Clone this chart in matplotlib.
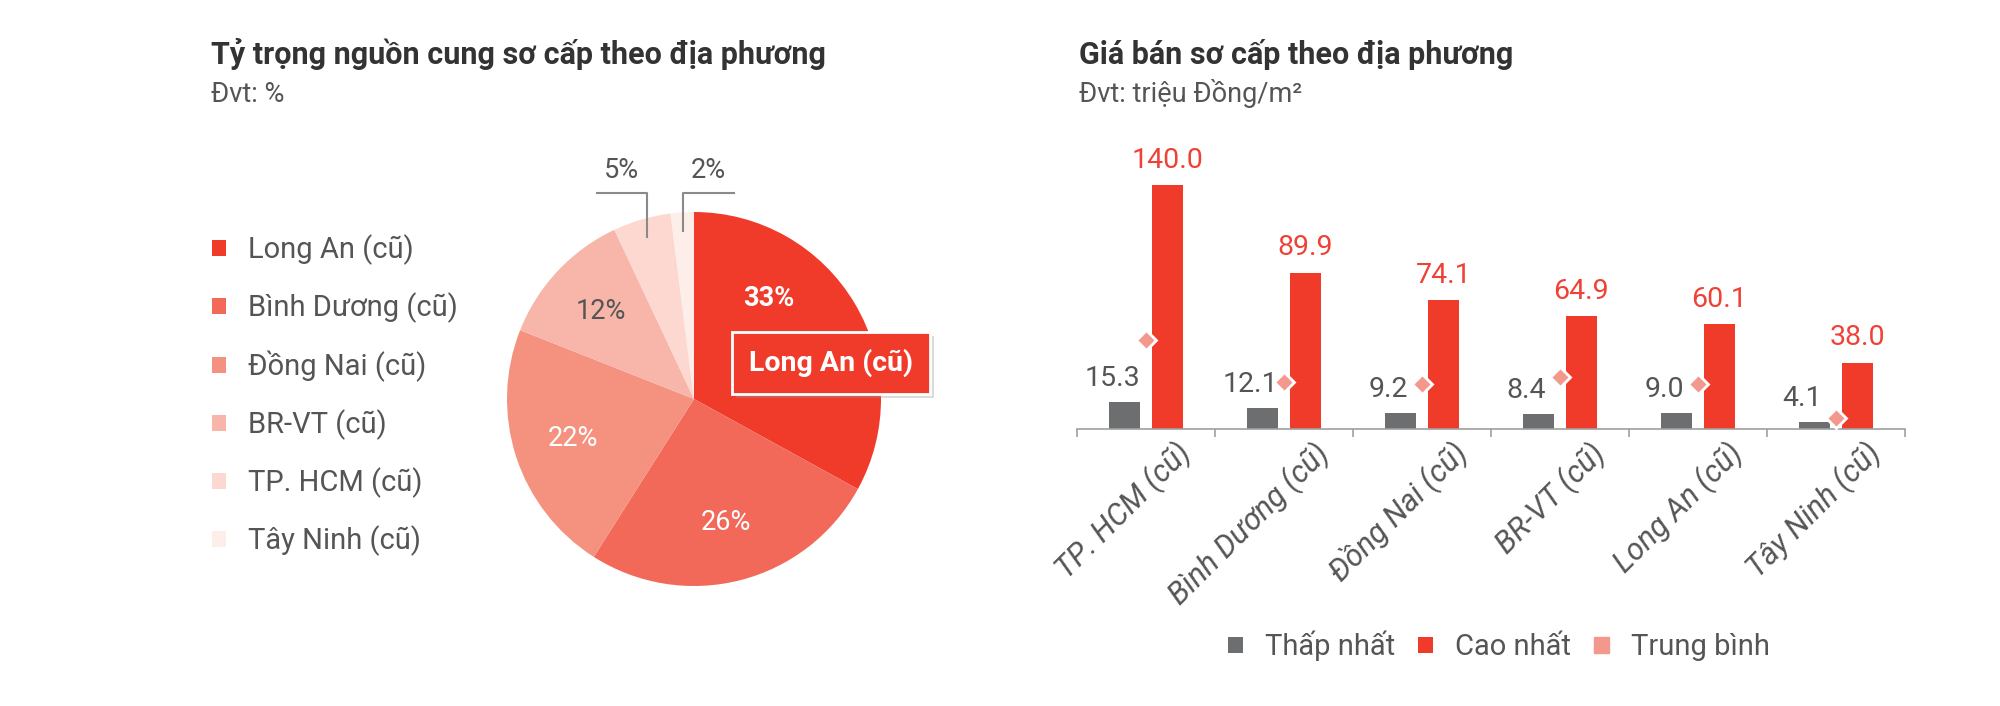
import matplotlib
matplotlib.use('Agg')
import matplotlib.pyplot as plt
import matplotlib.patches as mpatches
import matplotlib.patheffects as pe
from matplotlib.transforms import ScaledTranslation
import numpy as np

plt.rcParams['font.family'] = ['Roboto', 'DejaVu Sans']

# ---- data ----
pie_labels = ['Long An (cũ)', 'Bình Dương (cũ)', 'Đồng Nai (cũ)', 'BR-VT (cũ)', 'TP. HCM (cũ)', 'Tây Ninh (cũ)']
pie_share = [33, 26, 22, 12, 5, 2]
pie_colors = ['#F03B2B', '#F2695A', '#F5917F', '#F8B5A9', '#FCD8D0', '#FEEEEA']

regions = ['TP. HCM (cũ)', 'Bình Dương (cũ)', 'Đồng Nai (cũ)', 'BR-VT (cũ)', 'Long An (cũ)', 'Tây Ninh (cũ)']
price_min = [15.3, 12.1, 9.2, 8.4, 9.0, 4.1]
price_max = [140.0, 89.9, 74.1, 64.9, 60.1, 38.0]
price_avg = [51.0, 27.0, 26.0, 30.0, 25.6, 6.3]
series_names = ['Thấp nhất', 'Cao nhất', 'Trung bình']

RED = '#F03B2B'
GREY = '#6D6E70'
SALMON = '#F3988C'
TXT = '#555555'

W, H = 2000, 706
fig = plt.figure(figsize=(W / 100, H / 100), dpi=100)


def px(x0, y0, w, h):  # pixel box (top-left origin) -> figure fraction
    return [x0 / W, 1 - (y0 + h) / H, w / W, h / H]


# ---- titles ----
fig.text(211 / W, 1 - 54 / H, 'Tỷ trọng nguồn cung sơ cấp theo địa phương',
         fontsize=22, weight='bold', color='#333333', va='center')
fig.text(211 / W, 1 - 94 / H, 'Đvt: %', fontsize=19.5, color=TXT, va='center')
fig.text(1079 / W, 1 - 54 / H, 'Giá bán sơ cấp theo địa phương',
         fontsize=22, weight='bold', color='#333333', va='center')
fig.text(1079 / W, 1 - 94 / H, 'Đvt: triệu Đồng/m²', fontsize=19.5, color=TXT, va='center')

# ---- pie ----
ax1 = fig.add_axes(px(507, 212, 374, 374))
wedges, texts, autotexts = ax1.pie(pie_share, colors=pie_colors, startangle=90, counterclock=False,
                                   autopct=lambda p: f'{p:.0f}%', pctdistance=0.68,
                                   textprops=dict(fontsize=19.5, color='white'))
ax1.set_xlim(-1, 1)
ax1.set_ylim(-1, 1)

autotexts[0].set_position((0.40, 0.54))
autotexts[0].set_fontweight('bold')
autotexts[3].set_color(TXT)

box = ax1.text(0.733, 0.193, pie_labels[0], ha='center', va='center', fontsize=20.5,
               weight='bold', color='white', clip_on=False,
               bbox=dict(boxstyle='square,pad=0.6', fc=RED, ec='white', lw=2))
box.get_bbox_patch().set_path_effects([
    pe.SimplePatchShadow(offset=(3, -3), shadow_rgbFace='#999999', alpha=0.35), pe.Normal()])

# small slices: labels above with leader lines
for i, side in [(4, -1), (5, 1)]:
    autotexts[i].set_visible(False)
    w = wedges[i]
    mid = np.deg2rad((w.theta1 + w.theta2) / 2)
    x0, y0 = 0.9 * np.cos(mid), 0.9 * np.sin(mid)
    ax1.plot([x0, x0, x0 + side * 0.27], [y0, 1.10, 1.10], color='#8A8A8A', lw=1.5, clip_on=False)
    ax1.text(x0 + side * 0.135, 1.22, autotexts[i].get_text(), ha='center', va='center',
             fontsize=19.5, color=TXT, clip_on=False)

ax1.legend(wedges, pie_labels, loc='upper left', bbox_to_anchor=(197 / W, 1 - 220 / H),
           bbox_transform=fig.transFigure, frameon=False, fontsize=21, borderpad=0,
           handlelength=0.5, handleheight=0.5, handletextpad=0.75, labelspacing=0.94,
           labelcolor=TXT)

# ---- bars ----
ax2 = fig.add_axes(px(1077, 168, 828, 261))
x = np.arange(len(regions))
bw = 0.225
b1 = ax2.bar(x - 0.155, price_min, bw, color=GREY)
b2 = ax2.bar(x + 0.155, price_max, bw, color=RED)
ax2.plot(x, price_avg, ls='none', marker='D', ms=10, mfc=SALMON, mec='white', mew=2, zorder=3)
ax2.set_xlim(-0.5, len(regions) - 0.5)
ax2.set_ylim(0, 150)

for xi, v in zip(x, price_min):
    ax2.annotate(f'{v:.1f}', (xi - 0.155, v), xytext=(-9, 17), textcoords='offset points',
                 ha='center', va='center', fontsize=20.5, color=TXT)
for xi, v in zip(x, price_max):
    ax2.annotate(f'{v:.1f}', (xi + 0.155, v), xytext=(0, 18), textcoords='offset points',
                 ha='center', va='center', fontsize=20.5, color='#EF4136')

for s in ['top', 'right', 'left']:
    ax2.spines[s].set_visible(False)
ax2.spines['bottom'].set_color('#A0A0A0')
ax2.spines['bottom'].set_linewidth(1.2)
ax2.set_yticks([])
ax2.set_xticks(x, regions, rotation=45, ha='right', va='center', rotation_mode='anchor',
               fontsize=22, style='italic', color=TXT)
ax2.set_xticks(np.arange(-0.5, len(regions), 1), minor=True)
ax2.tick_params(axis='x', which='major', length=0, pad=14)
ax2.tick_params(axis='x', which='minor', length=6, width=1.2, color='#A0A0A0', direction='out')
for lbl in ax2.get_xticklabels():
    lbl.set_transform(lbl.get_transform() + ScaledTranslation(0.40, 0, fig.dpi_scale_trans))

avg_patch = mpatches.Patch(color=SALMON)
fig.legend([b1, b2, avg_patch], series_names, loc='center', bbox_to_anchor=(1499 / W, 1 - 646 / H),
           ncol=3, frameon=False, fontsize=21, handlelength=0.5, handleheight=0.5,
           handletextpad=0.75, columnspacing=0.8, labelcolor=TXT)

fig.savefig('out.png', dpi=100, facecolor='white')
